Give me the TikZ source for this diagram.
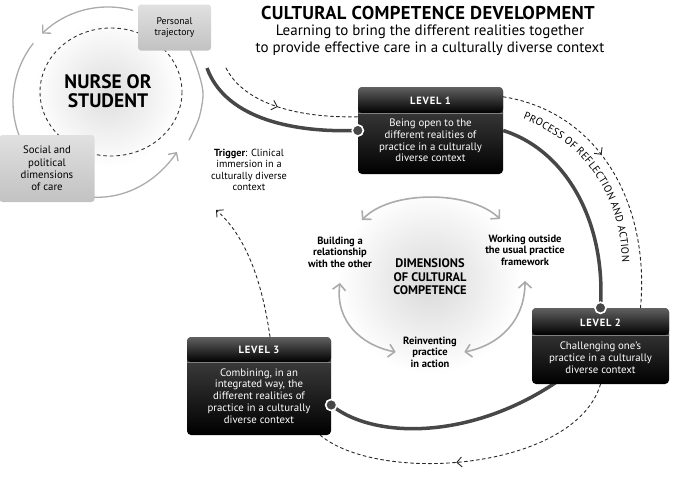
\documentclass[tikz,border=0pt]{standalone}
\usepackage{fontspec}
\setmainfont{PT Sans}
\usetikzlibrary{arrows.meta,decorations.markings,decorations.text}
\pgfdeclarelayer{bg}
\pgfsetlayers{bg,main}
\def\lvlhead{26pt}
\tikzset{
  glow/.style={inner color=black!13, outer color=white},
  graycirc/.style={draw=black!33, line width=1.3pt},
  greybox/.style={rounded corners=3pt, top color=black!12, bottom color=black!24, draw=none, align=center, inner sep=0pt},
  levelbox/.style={rounded corners=4pt, inner sep=0pt, draw=none,
    path picture={
      \shade[top color=black!70, bottom color=black] (path picture bounding box.north west) rectangle (path picture bounding box.south east);
      \shade[top color=black!62, bottom color=black] (path picture bounding box.north west) rectangle ([yshift=-\lvlhead]path picture bounding box.north east);
      \draw[black!50, line width=0.6pt] ([yshift=-\lvlhead]path picture bounding box.north west) -- ([yshift=-\lvlhead]path picture bounding box.north east);
    }},
  lvlhdr/.style={text=white, font=\fontsize{10.5}{12}\selectfont\bfseries\addfontfeatures{LetterSpace=8}},
  lvltxt/.style={text=white, align=center, font=\fontsize{10.8}{11.8}\selectfont},
  thickarc/.style={draw=black!72, line width=3.5pt},
  dotmark/.style={fill=black!72, draw=white, line width=1.5pt},
  dasharrow/.style={draw=black!85, line width=0.9pt, dash pattern=on 3pt off 3pt},
  midarrow/.style={postaction={decorate, decoration={markings, mark=at position #1 with {\arrow{Straight Barb[length=5pt,width=10pt]}}}}},
  dimlabel/.style={align=center, font=\fontsize{10.5}{11.6}\selectfont\bfseries},
  grayarrow/.style={draw=black!33, line width=1.6pt, {Straight Barb[length=6pt,width=13pt]}-{Straight Barb[length=6pt,width=13pt]}}
}
\begin{document}
\begin{tikzpicture}[x=1pt,y=-1pt,line cap=round]
\useasboundingbox (0,0) rectangle (675,479);

% glows
\shade[glow] (108,93) circle[radius=74pt];
\shade[inner color=black!15, outer color=white] (430,282) circle[radius=92pt];

% nurse circle
\draw[black!80, line width=0.9pt, dash pattern=on 3pt off 3.5pt] (111,92) ellipse [x radius=71, y radius=64];
\draw[graycirc, -{Straight Barb[length=6pt,width=12pt]}] (108,102) ++(-75:95) arc[start angle=-75, end angle=-134, radius=95];
\draw[graycirc] (108,102) ++(-142:95) arc[start angle=-142, end angle=-205, radius=95];
\draw[graycirc, -{Straight Barb[length=6pt,width=12pt]}] (90,197) .. controls (130,200) and (160,177) .. (177,152);
\draw[graycirc] plot[smooth] coordinates {(186,40) (197,68) (203,93) (199,118) (189,140)};

\node[greybox, minimum width=73pt, minimum height=46pt, font=\fontsize{9.8}{11}\selectfont] (P) at (174.5,27.5) {Personal\\trajectory};
\node[greybox, minimum width=95pt, minimum height=67pt, font=\fontsize{10.8}{12.3}\selectfont] (S) at (47,168.5) {Social and\\political\\dimensions\\of care};
\node[align=center, font=\fontsize{19.5}{18.5}\selectfont\bfseries] (N) at (108,91) {NURSE OR\\STUDENT};
\coordinate (nA) at (207,68);
\coordinate (nD) at (226,68);

% title
\node[font=\fontsize{18.6}{20}\selectfont\bfseries\addfontfeatures{LetterSpace=2}] (title) at (428,13) {CULTURAL COMPETENCE DEVELOPMENT};
\node[align=center, font=\fontsize{15}{17}\selectfont] (sub) at (430,40.5) {Learning to bring the different realities together\\to provide effective care in a culturally diverse context};

% trigger
\node[align=center, font=\fontsize{10.3}{11.5}\selectfont] (T) at (249,170) {\textbf{Trigger}: Clinical\\immersion in a\\culturally diverse\\context};
\coordinate (trg) at (216,210);

% dimensions
\node[align=center, font=\fontsize{12.4}{13.5}\selectfont\bfseries] (D) at (430,277) {DIMENSIONS\\OF CULTURAL\\COMPETENCE};
\node[dimlabel] (B) at (340,252) {Building a\\relationship\\with the other};
\node[dimlabel] (W) at (525,250) {Working outside\\the usual practice\\framework};
\node[dimlabel] (R) at (430,352) {Reinventing\\practice\\in action};
\draw[grayarrow] ([xshift=22pt,yshift=13pt]B.north) .. controls (390,190) and (470,190) .. ([xshift=-25pt,yshift=12pt]W.north);
\draw[grayarrow] ([yshift=-12pt]B.south) .. controls (335,320) and (360,345) .. ([xshift=-4pt]R.west);
\draw[grayarrow] ([yshift=-12pt]W.south) .. controls (525,320) and (500,345) .. ([xshift=4pt]R.east);

% level boxes
\node[levelbox, minimum width=145pt, minimum height=87pt] (L1) at (430.5,130.5) {};
\node[lvlhdr] (L1h) at ([yshift=-14pt]L1.north) {LEVEL 1};
\node[lvltxt] (L1b) at ([yshift=-10pt]L1.center) {Being open to the\\different realities of\\practice in a culturally\\diverse context};

\def\lvlhead{27pt}
\node[levelbox, minimum width=137pt, minimum height=76pt] (L2) at (600.5,346) {};
\node[lvlhdr] (L2h) at ([yshift=-15pt]L2.north) {LEVEL 2};
\node[lvltxt] (L2b) at ([yshift=-12pt]L2.center) {Challenging one’s\\practice in a culturally\\diverse context};

\def\lvlhead{25pt}
\node[levelbox, minimum width=144pt, minimum height=98pt] (L3) at (259,386) {};
\node[lvlhdr] (L3h) at ([yshift=-13pt]L3.north) {LEVEL 3};
\node[lvltxt] (L3b) at ([yshift=-10pt]L3.center) {Combining, in an\\integrated way, the\\different realities of\\practice in a culturally\\diverse context};

% connectors behind
\begin{pgfonlayer}{bg}
\draw[thickarc] (nA) .. controls (224,115) and (285,133) .. (L1.west);
\draw[thickarc] (L1.east) .. controls (565,150) and (606,220) .. (L2.north);
\draw[thickarc] (L2.center) .. controls (505,440) and (380,445) .. ([yshift=-19pt]L3.east);
\end{pgfonlayer}
\fill[dotmark] (L1.west) circle[radius=5.5pt];
\fill[dotmark] (L2.north) circle[radius=5.5pt];
\fill[dotmark] ([yshift=-19pt]L3.east) circle[radius=5.5pt];
\draw[dotmark] (L1.west) circle[radius=5.5pt];
\draw[dotmark] (L2.north) circle[radius=5.5pt];
\draw[dotmark] ([yshift=-19pt]L3.east) circle[radius=5.5pt];

% dashed arrows
\draw[dasharrow, midarrow=0.45] (nD) .. controls (245,105) and (300,118) .. ([yshift=-30pt]L1.north west);
\draw[dasharrow, midarrow=0.42] ([yshift=-10pt]L1.north east) .. controls (600,112) and (650,205) .. ([xshift=40pt]L2.north);
\draw[dasharrow, midarrow=0.55] (L2.south) .. controls (575,470) and (380,485) .. ([xshift=-11pt]L3.south east);
\draw[dasharrow, -{Straight Barb[length=5pt,width=10pt]}] ([xshift=11pt]L3.north) .. controls (262,280) and (245,235) .. (trg);

% curved label
\path[decorate, decoration={text along path, text={|\fontsize{10.5}{11}\selectfont|PROCESS OF REFLECTION AND ACTION}, text align=fit to path}] (523,119) .. controls (588,144) and (621,200) .. (622,262);
\end{tikzpicture}
\end{document}
